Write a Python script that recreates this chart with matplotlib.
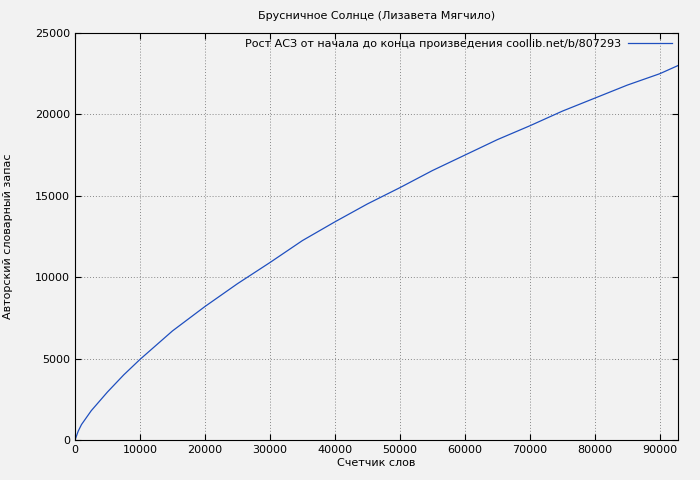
import matplotlib
matplotlib.use("Agg")
import matplotlib.pyplot as plt

words = [0, 500, 1000, 2500, 5000, 7500, 10000, 15000, 20000, 25000, 30000, 35000, 40000,
         45000, 50000, 55000, 60000, 65000, 70000, 75000, 80000, 85000, 90000, 92800]
vocab = [0, 550, 950, 1800, 2950, 4000, 4950, 6700, 8200, 9600, 10900, 12250, 13400,
         14500, 15500, 16550, 17500, 18450, 19300, 20200, 21000, 21800, 22500, 23000]
xticks = [0, 10000, 20000, 30000, 40000, 50000, 60000, 70000, 80000, 90000]
yticks = [0, 5000, 10000, 15000, 20000, 25000]

plt.rcParams['font.family'] = ['DejaVu Sans']
fig = plt.figure(figsize=(7, 4.8), dpi=100, facecolor='#f2f2f2')
ax = fig.add_axes([75/700, 40/480, 603/700, 407/480])
ax.set_facecolor('#f2f2f2')
ax.plot(words, vocab, color='#1f4fbf', lw=0.9,
        label='Рост АСЗ от начала до конца произведения coollib.net/b/807293')
ax.set_xlim(0, 92800)
ax.set_ylim(0, 25000)
ax.set_xticks(xticks)
ax.set_yticks(yticks)
ax.tick_params(labelsize=8, direction='in', length=4, top=True, right=True)
ax.grid(True, color='#888888', linestyle=(0, (1, 2)), lw=0.7)
for s in ax.spines.values():
    s.set_color('black'); s.set_linewidth(0.8)
ax.set_xlabel('Счетчик слов', fontsize=8, labelpad=2)
ax.set_ylabel('Авторский словарный запас', fontsize=8, labelpad=16)
ax.set_title('Брусничное Солнце (Лизавета Мягчило)', fontsize=8, pad=10)
leg = ax.legend(loc='upper right', fontsize=8, frameon=False, markerfirst=False,
                handlelength=4, handletextpad=0.6, borderaxespad=0.3, borderpad=0.2)
fig.savefig('out.png', dpi=100, facecolor='#f2f2f2')
